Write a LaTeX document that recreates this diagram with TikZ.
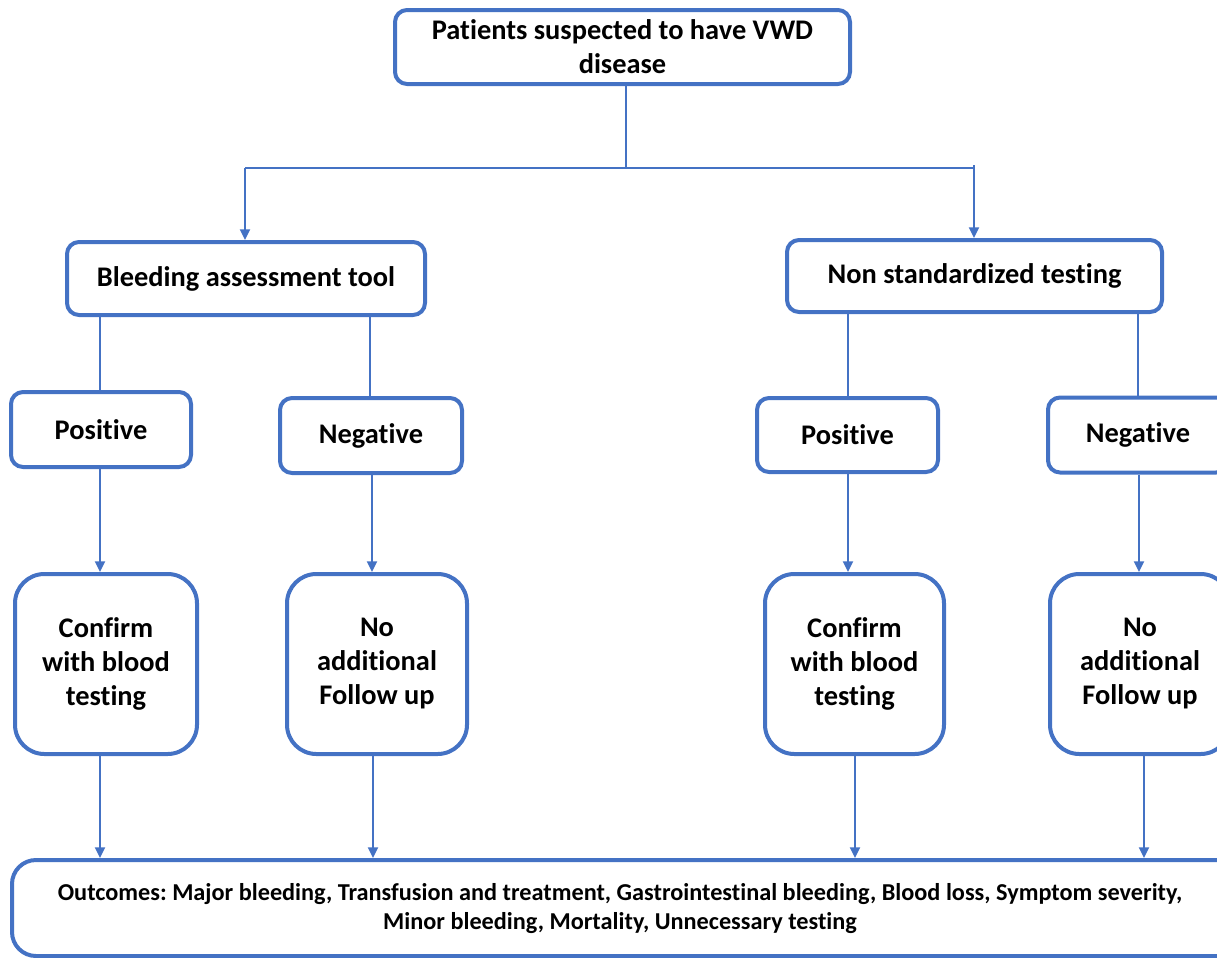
\documentclass[tikz,border=0pt]{standalone}
\usepackage{fontspec}
\setmainfont{Carlito}[Ligatures=NoCommon]
\usetikzlibrary{arrows.meta}
\definecolor{boxblue}{RGB}{68,114,196}
\frenchspacing
\begin{document}
\begin{tikzpicture}[x=0.75pt,y=-0.75pt,
  box/.style={draw=boxblue, line width=3pt, rounded corners=9pt, fill=white,
    align=center, font=\fontsize{21.3}{25.5}\selectfont\bfseries, inner sep=0pt},
  tallbox/.style={box, rounded corners=22pt},
  conn/.style={draw=boxblue, line width=1.5pt},
  arr/.style={conn, -{Triangle[length=8pt,width=7.5pt]}}
]
\useasboundingbox (0,0) rectangle (1217,957);
\clip (0,0) rectangle (1217,957);

\node[box, minimum width=341.25pt, minimum height=55.5pt] (top) at (622.5,47)
  {Patients suspected to have VWD\\disease};
\node[box, minimum width=268.5pt, minimum height=54.75pt] (bat) at (246,278.5)
  {Bleeding assessment tool};
\node[box, minimum width=281.25pt, minimum height=54pt] (nst) at (974.5,276)
  {Non standardized testing};

\node[box, minimum width=135pt, minimum height=56.25pt] (pos1) at (101,429.5) {Positive};
\node[box, minimum width=136.5pt, minimum height=56.25pt] (neg1) at (371,435.5) {Negative};
\node[box, minimum width=135.75pt, minimum height=55.5pt] (pos2) at (847.5,435) {Positive};
\node[box, minimum width=135pt, minimum height=56.25pt] (neg2) at (1138,435) {Negative};

\node[tallbox, minimum width=136.5pt, minimum height=135pt] (conf1) at (106,664)
  {Confirm\\with blood\\testing};
\node[tallbox, minimum width=135pt, minimum height=135pt] (noadd1) at (377,664)
  {No\\additional\\Follow up};
\node[tallbox, minimum width=134.25pt, minimum height=135pt] (conf2) at (854.5,664)
  {Confirm\\with blood\\testing};
\node[tallbox, minimum width=135pt, minimum height=135pt] (noadd2) at (1140,664)
  {No\\additional\\Follow up};

\node[box, rounded corners=18pt, minimum width=930pt, minimum height=72pt] (out) at (632,908)
  {};
\node[font=\fontsize{18.2}{21.75}\selectfont\bfseries, align=center, inner sep=0pt]
  (outtext) at (620,909)
  {Outcomes: Major bleeding, Transfusion and treatment, Gastrointestinal bleeding, Blood loss, Symptom severity,\\Minor bleeding, Mortality, Unnecessary testing};

% top split
\coordinate (split) at (626,168);
\coordinate (lt) at (245,168);
\coordinate (rt) at (974,165);
\draw[conn] (top.south -| split) -- (split);
\draw[conn] (lt) -- (974,168);
\draw[arr] (lt) -- (lt |- bat.north);
\draw[arr] (rt) -- (rt |- nst.north);

% second level (no arrows)
\coordinate (b1) at (100,0);
\coordinate (b2) at (370,0);
\coordinate (b3) at (848,0);
\coordinate (b4) at (1138,0);
\draw[conn] (b1 |- bat.south) -- (b1 |- pos1.north);
\draw[conn] (b2 |- bat.south) -- (b2 |- neg1.north);
\draw[conn] (b3 |- nst.south) -- (b3 |- pos2.north);
\draw[conn] (b4 |- nst.south) -- (b4 |- neg2.north);

% to result boxes
\coordinate (c1) at (100,0);
\coordinate (c2) at (372,0);
\coordinate (c3) at (848,0);
\coordinate (c4) at (1139,0);
\draw[arr] (c1 |- pos1.south) -- (c1 |- conf1.north);
\draw[arr] (c2 |- neg1.south) -- (c2 |- noadd1.north);
\draw[arr] (c3 |- pos2.south) -- (c3 |- conf2.north);
\draw[arr] (c4 |- neg2.south) -- (c4 |- noadd2.north);

% to outcomes
\coordinate (d1) at (100,0);
\coordinate (d2) at (373,0);
\coordinate (d3) at (855,0);
\coordinate (d4) at (1144,0);
\draw[arr] (d1 |- conf1.south) -- (d1 |- out.north);
\draw[arr] (d2 |- noadd1.south) -- (d2 |- out.north);
\draw[arr] (d3 |- conf2.south) -- (d3 |- out.north);
\draw[arr] (d4 |- noadd2.south) -- (d4 |- out.north);
\end{tikzpicture}
\end{document}
